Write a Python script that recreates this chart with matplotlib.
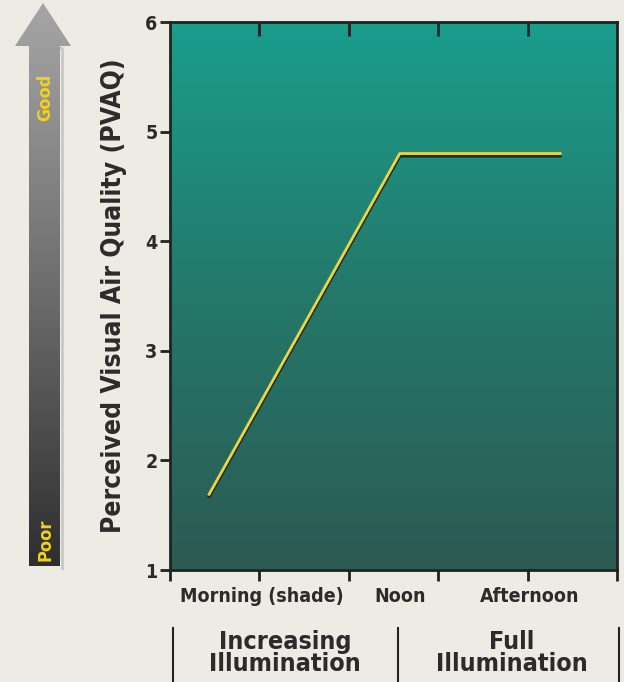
import numpy as np
import matplotlib.pyplot as plt
from matplotlib.colors import LinearSegmentedColormap
from matplotlib.patches import Polygon

# data
x_pts = [0.43, 2.57, 4.38]
y_pts = [1.68, 4.80, 4.80]
cat_pos = [1.03, 2.57, 4.02]
cat_labels = ["Morning (shade)", "Noon", "Afternoon"]
y_ticks = [1, 2, 3, 4, 5, 6]
phase_labels = ["Increasing\nIllumination", "Full\nIllumination"]

bold = dict(family="DejaVu Sans", stretch="condensed", weight="bold")
txt = "#2b2b2b"

fig = plt.figure(figsize=(6.24, 6.82), dpi=100)
fig.patch.set_facecolor("#ecebe4")

ax = fig.add_axes([0.2724, 0.1642, 0.7164, 0.8035])
ax.set_xlim(0, 5)
ax.set_ylim(1, 6)

# teal gradient background
bg = LinearSegmentedColormap.from_list("bg", ["#2c5a52", "#24786a", "#1a9d8c"])
grad = np.linspace(0, 1, 256).reshape(-1, 1)
ax.imshow(grad, cmap=bg, origin="lower", extent=[0, 5, 1, 6], aspect="auto", zorder=0)

# line with a dark shadow
ax.plot(x_pts, np.array(y_pts) - 0.02, color="#1a2a28", lw=2.6, zorder=2, solid_capstyle="butt")
ax.plot(x_pts, y_pts, color="#ecd83a", lw=2.0, zorder=3, solid_capstyle="butt")

for s in ax.spines.values():
    s.set_linewidth(2)
    s.set_color("#222222")

ax.set_yticks(y_ticks)
ax.set_yticklabels([str(v) for v in y_ticks], fontsize=14, color=txt, **bold)
ax.set_xticks([0, 1, 2, 3, 4, 5])
ax.set_xticklabels([])
ax.tick_params(axis="y", direction="out", length=7, width=2, color="#222222", pad=2)
ax.tick_params(axis="x", direction="out", length=8, width=2, color="#222222")
ax.set_xticks(cat_pos, minor=True)
ax.set_xticklabels(cat_labels, minor=True, fontsize=14, color=txt, **bold)
ax.tick_params(axis="x", which="minor", length=0, pad=12)

# top ticks point inward
top = ax.secondary_xaxis("top")
top.set_xticks([1, 2, 3, 4])
top.set_xticklabels([])
top.tick_params(direction="in", length=10, width=2, color="#222222")
top.spines["top"].set_visible(False)

ax.set_ylabel("Perceived Visual Air Quality (PVAQ)", fontsize=19, color=txt, labelpad=13, **bold)

# bottom phase labels and separators
fig.text(285 / 624, 1 - 653 / 682, phase_labels[0], ha="center", va="center",
         fontsize=18, color=txt, linespacing=0.92, **bold)
fig.text(512 / 624, 1 - 653 / 682, phase_labels[1], ha="center", va="center",
         fontsize=18, color=txt, linespacing=0.92, **bold)
for xp in [173, 398, 619]:
    fig.add_artist(plt.Line2D([xp / 624, xp / 624], [0, 1 - 628 / 682], color="#222222", lw=1.5))

# the Good/Poor arrow on the left
aax = fig.add_axes([0, 0, 1, 1])
aax.set_xlim(0, 624)
aax.set_ylim(682, 0)
aax.axis("off")
arrow_cm = LinearSegmentedColormap.from_list("arr", ["#a6a6a6", "#6e6e6e", "#2e2e2e"])
img = aax.imshow(np.linspace(0, 1, 256).reshape(-1, 1), cmap=arrow_cm,
                 extent=[14, 72, 566, 2], aspect="auto", zorder=1)
shape = Polygon([[29, 566], [29, 46], [15, 46], [43, 3], [71, 46], [60, 46], [60, 566]],
                closed=True, transform=aax.transData, facecolor="none", edgecolor="none")
aax.add_patch(shape)
img.set_clip_path(shape)
aax.plot([60, 62, 62], [48, 48, 568], color="#c9c9c4", lw=2, zorder=0)
aax.text(45, 97, "Good", rotation=90, ha="center", va="center", fontsize=13,
         color="#f2d21b", **bold)
aax.text(45, 540, "Poor", rotation=90, ha="center", va="center", fontsize=13,
         color="#f2d21b", **bold)

fig.savefig("out.png", dpi=100, facecolor=fig.get_facecolor())
